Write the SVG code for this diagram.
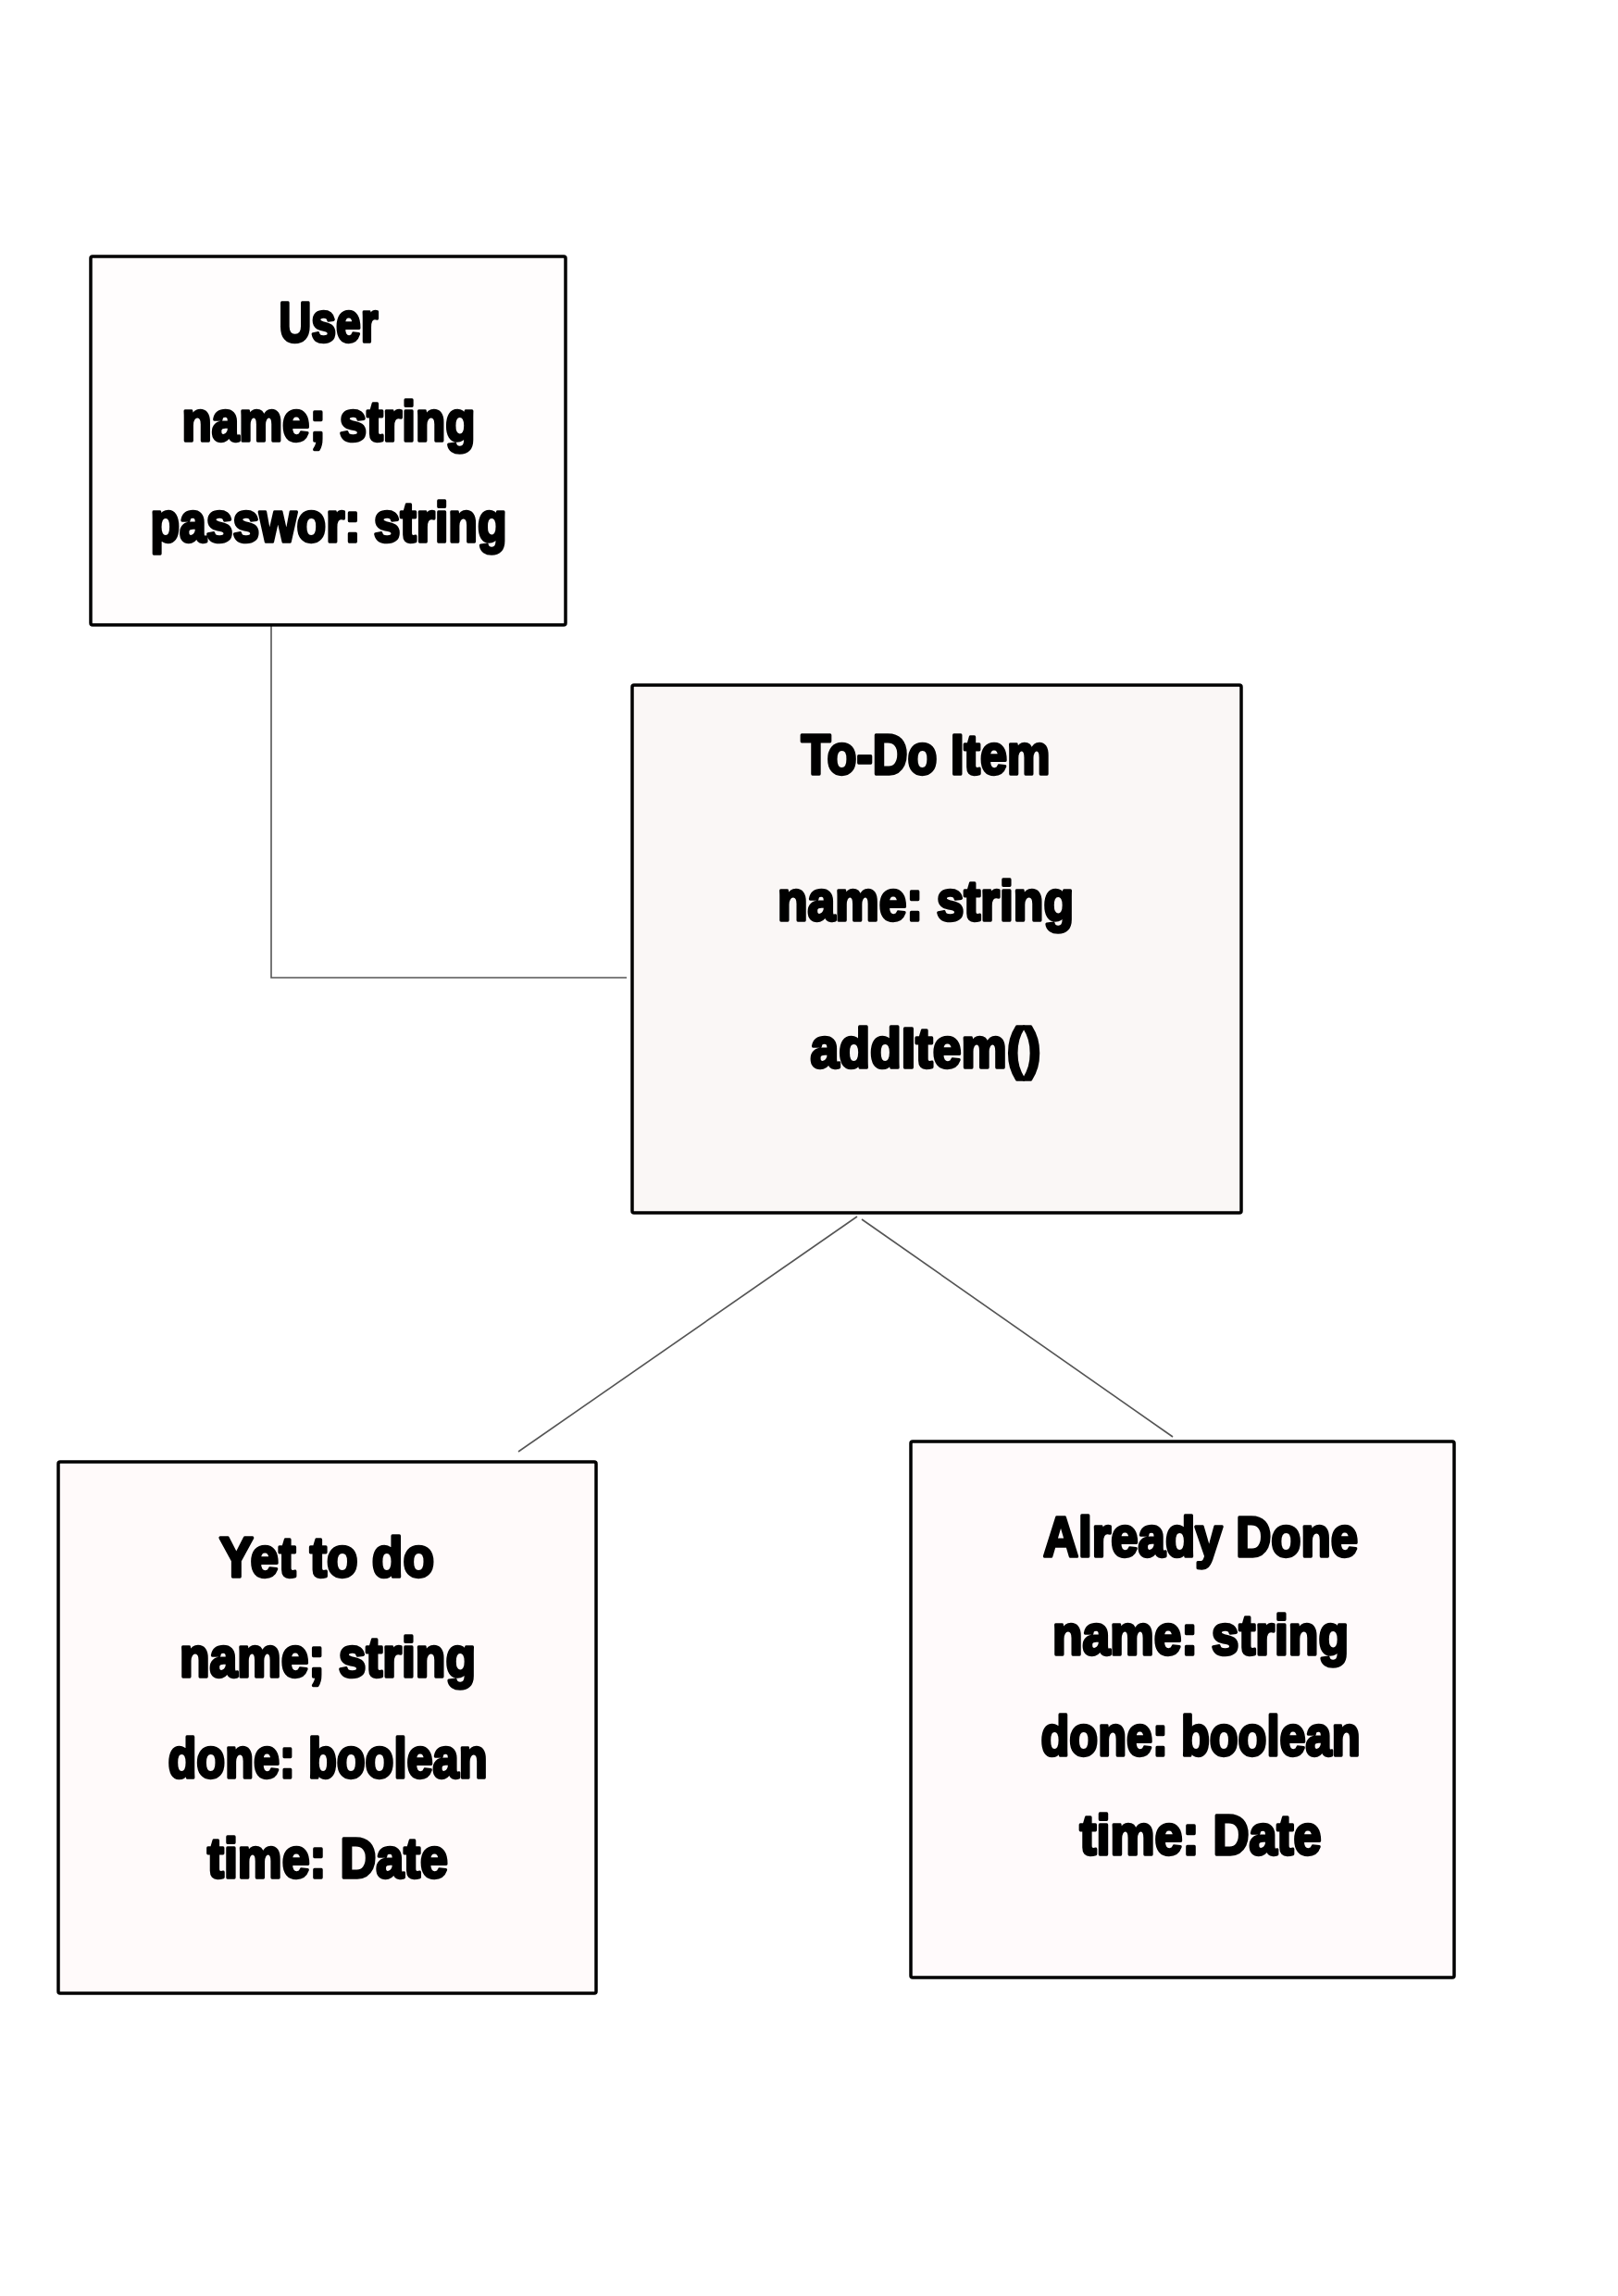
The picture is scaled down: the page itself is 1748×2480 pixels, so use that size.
<svg xmlns="http://www.w3.org/2000/svg" width="1748" height="2480" viewBox="0 0 1748 2480">
<style>
.box{stroke:#000;stroke-width:3.5;stroke-linejoin:round}
.t{font-family:"Liberation Sans","DejaVu Sans",sans-serif;font-weight:900;font-size:62px;fill:#000;stroke:#000;stroke-width:3.5;stroke-linejoin:round;text-anchor:middle}
.c{fill:none;stroke:#555;stroke-width:1.6}
</style>
<rect width="1748" height="2480" fill="#ffffff"/>
<g id="connectors">
<polyline class="c" points="293,675 293,1056 677,1056"/>
<line class="c" x1="926" y1="1314" x2="560" y2="1568"/>
<line class="c" x1="931" y1="1317" x2="1267" y2="1552"/>
</g>
<g id="user">
<rect class="box" x="98" y="277" width="513" height="398" fill="#fffdfd" rx="2"/>
<text class="t" x="355" y="369" textLength="107" lengthAdjust="spacingAndGlyphs">User</text>
<text class="t" x="355" y="476" textLength="317" lengthAdjust="spacingAndGlyphs">name; string</text>
<text class="t" x="355" y="585" textLength="385" lengthAdjust="spacingAndGlyphs">passwor: string</text>
</g>
<g id="todo">
<rect class="box" x="683" y="740" width="658" height="570" fill="#faf7f6" rx="2"/>
<text class="t" x="1000" y="836" textLength="269" lengthAdjust="spacingAndGlyphs">To-Do Item</text>
<text class="t" x="1000" y="994" textLength="320" lengthAdjust="spacingAndGlyphs">name: string</text>
<text class="t" x="1000" y="1153" textLength="249" lengthAdjust="spacingAndGlyphs">addItem()</text>
</g>
<g id="yet">
<rect class="box" x="63" y="1579" width="581" height="574" fill="#fffafa" rx="2"/>
<text class="t" x="353" y="1703" textLength="232" lengthAdjust="spacingAndGlyphs">Yet to do</text>
<text class="t" x="354" y="1811" textLength="320" lengthAdjust="spacingAndGlyphs">name; string</text>
<text class="t" x="354" y="1920" textLength="345" lengthAdjust="spacingAndGlyphs">done: boolean</text>
<text class="t" x="354" y="2028" textLength="260" lengthAdjust="spacingAndGlyphs">time: Date</text>
</g>
<g id="done">
<rect class="box" x="984" y="1557" width="587" height="579" fill="#fffafb" rx="2"/>
<text class="t" x="1297" y="1681" textLength="340" lengthAdjust="spacingAndGlyphs">Already Done</text>
<text class="t" x="1297" y="1787" textLength="320" lengthAdjust="spacingAndGlyphs">name: string</text>
<text class="t" x="1297" y="1896" textLength="345" lengthAdjust="spacingAndGlyphs">done: boolean</text>
<text class="t" x="1297" y="2003" textLength="261" lengthAdjust="spacingAndGlyphs">time: Date</text>
</g>
</svg>
